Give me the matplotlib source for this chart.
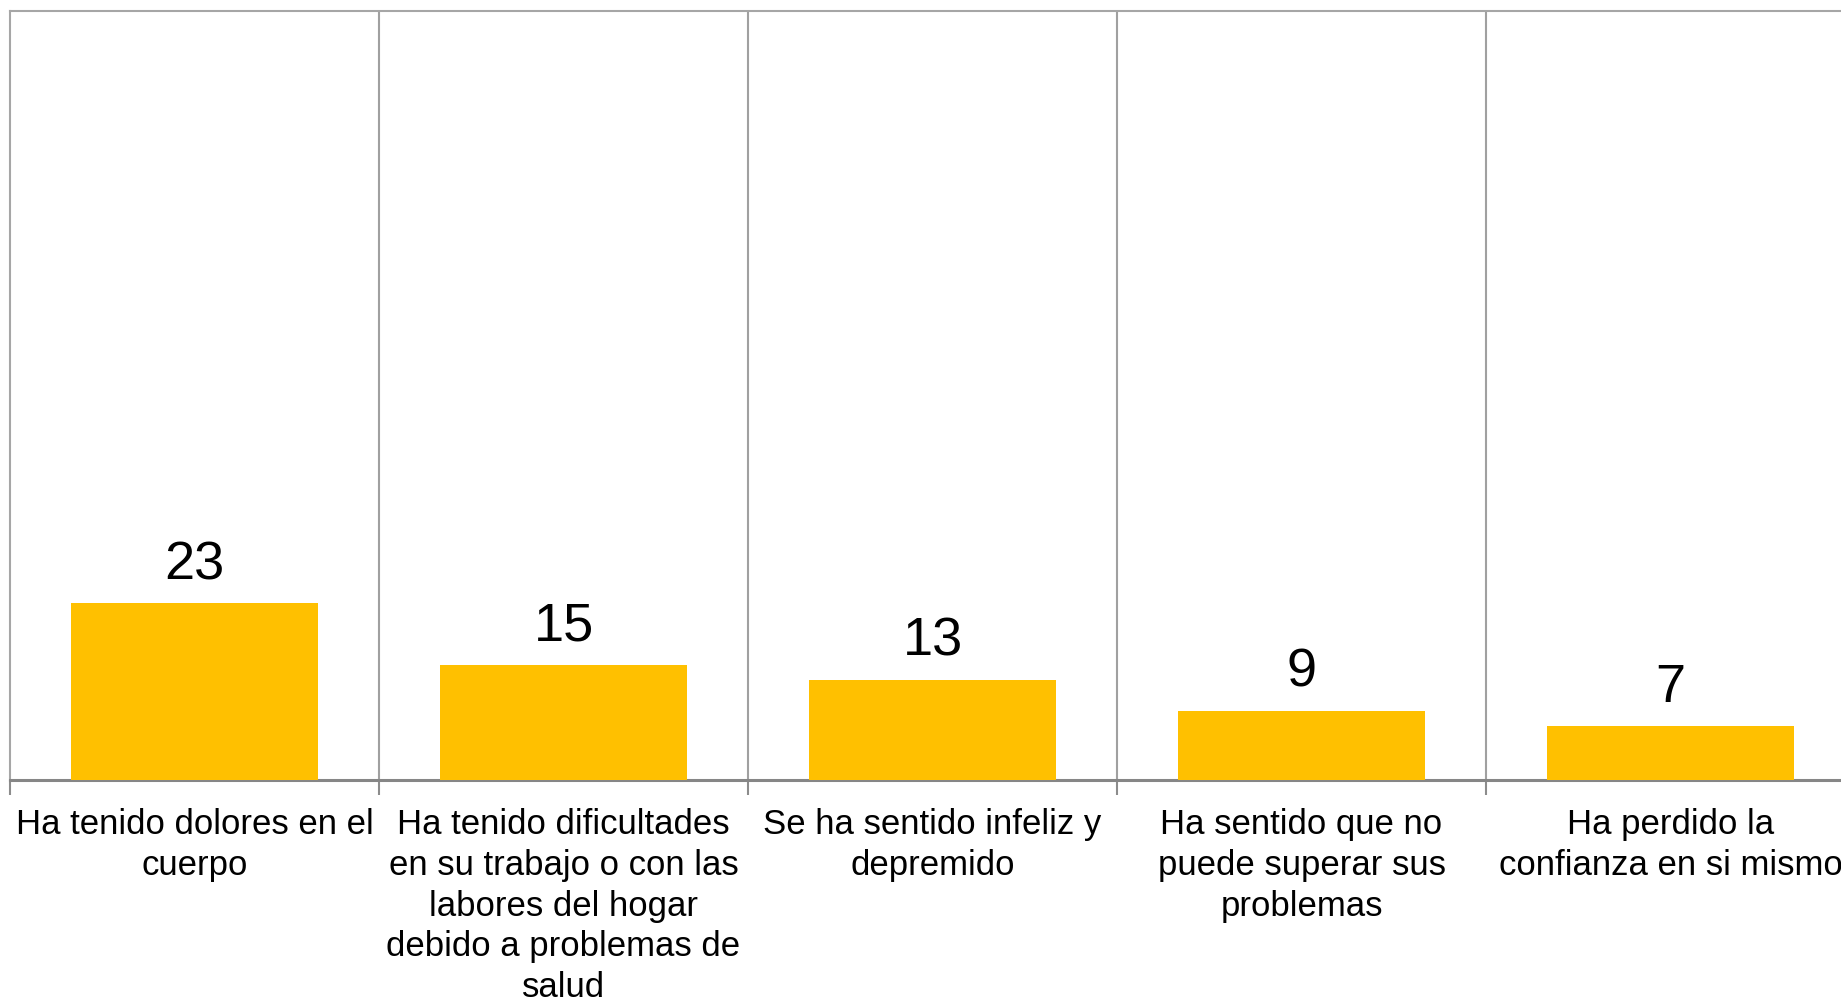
import numpy as np
import matplotlib
matplotlib.use("Agg")
import matplotlib.pyplot as plt

# data
categorias = [
    "Ha tenido dolores en el\ncuerpo",
    "Ha tenido dificultades\nen su trabajo o con las\nlabores del hogar\ndebido a problemas de\nsalud",
    "Se ha sentido infeliz y\ndepremido",
    "Ha sentido que no\npuede superar sus\nproblemas",
    "Ha perdido la\nconfianza en si mismo",
]
valores = [23, 15, 13, 9, 7]

plt.rcParams["font.family"] = ["Liberation Sans", "DejaVu Sans"]

fig = plt.figure(figsize=(18.41, 10), dpi=100)
# axes runs a bit past the right edge, as in the original
ax = fig.add_axes([10 / 1841, 0.22, 1845 / 1841, 0.769])

x = np.arange(len(valores))
ax.bar(x, valores, width=0.667, color="#FFC000", zorder=3)

for xi, v in zip(x, valores):
    ax.text(xi, v + 1.7, str(v), ha="center", va="bottom", fontsize=39, color="black")

ax.set_ylim(0, 100)
ax.set_xlim(-0.5, len(valores) - 0.5)

# category separators
for b in np.arange(0.5, len(valores) - 0.5, 1):
    ax.axvline(b, color="#A0A0A0", lw=1.5, zorder=1)

ax.set_yticks([])
ax.set_xticks(x)
ax.set_xticklabels(categorias, fontsize=25, linespacing=1.29)
ax.tick_params(axis="x", length=0, pad=20.5)
ax.set_xticks(np.arange(-0.5, len(valores), 1), minor=True)
ax.tick_params(axis="x", which="minor", length=11, width=1.5, color="#8C8C8C")

for s in ["top", "left", "right"]:
    ax.spines[s].set_color("#A6A6A6")
    ax.spines[s].set_linewidth(1.5)
ax.spines["bottom"].set_color("#868686")
ax.spines["bottom"].set_linewidth(2.2)

fig.savefig("out.png", dpi=100)
